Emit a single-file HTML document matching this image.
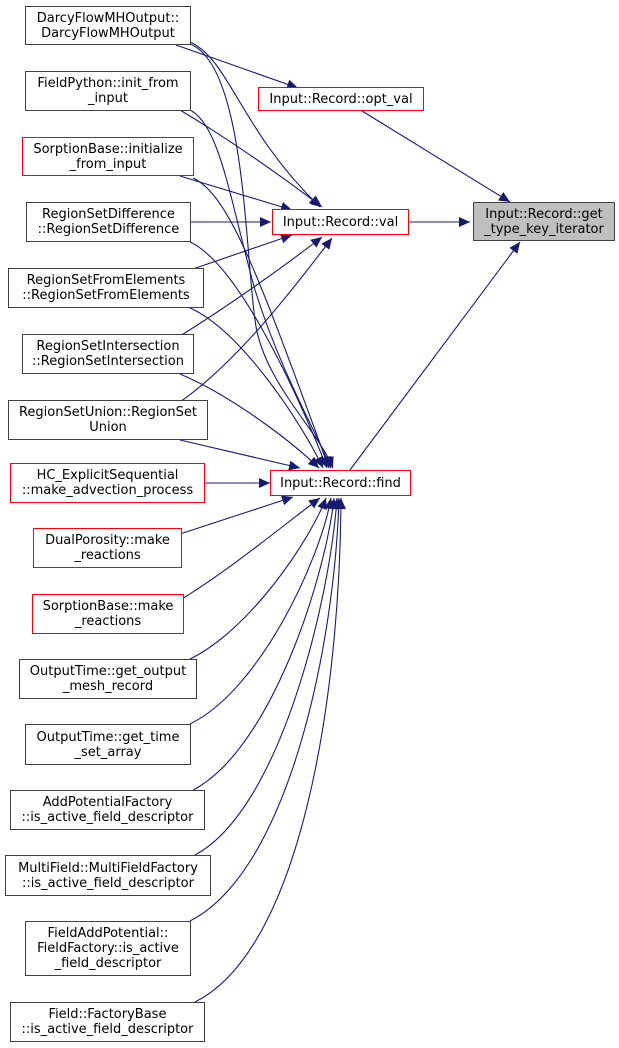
<!DOCTYPE html>
<html><head><meta charset="utf-8"><style>
html,body{margin:0;padding:0;background:#fff;}
body{width:619px;height:1048px;position:relative;overflow:hidden;font-family:"DejaVu Sans","Liberation Sans",sans-serif;font-size:13px;}
.n{position:absolute;box-sizing:border-box;border:1.3px solid #404040;background:#fff;text-align:center;line-height:15px;display:flex;align-items:center;justify-content:center;color:#000;white-space:nowrap;}
.r{border-color:#ff0000;}
.g{background:#bfbfbf;}
svg{position:absolute;left:0;top:0;}
</style></head><body>
<svg width="619" height="1048">
<defs><marker id="a" markerUnits="userSpaceOnUse" markerWidth="12" markerHeight="10" refX="11" refY="5" orient="auto"><path d="M0,0 L11,5 L0,10 z" fill="#191970"/></marker></defs>
<g fill="none" stroke="#191970" stroke-width="1.1" marker-end="url(#a)">
<path d="M176,45 L298,88"/>
<path d="M190,42 C230,60 240,130 320,207"/>
<path d="M190,44 C245,65 245,250 255,320 C262,380 318,430 333,468"/>
<path d="M180,110 C230,140 280,175 322,207"/>
<path d="M190,110 C220,125 230,200 255,290 C280,370 315,430 331,468"/>
<path d="M180,176 L292,210"/>
<path d="M193,178 C230,195 260,280 329,468"/>
<path d="M190,222 L271,222"/>
<path d="M190,242 C240,265 300,400 327,468"/>
<path d="M190,270 L292,235"/>
<path d="M190,308 C240,330 300,420 323,468"/>
<path d="M180,336 C230,305 290,262 322,237"/>
<path d="M180,374 C230,395 290,440 319,468"/>
<path d="M180,402 C240,360 300,280 332,238"/>
<path d="M180,440 L300,468"/>
<path d="M205,483 L270,483"/>
<path d="M180,534 L293,497"/>
<path d="M180,600 C230,570 290,520 320,498"/>
<path d="M190,659 C250,630 310,540 326,498"/>
<path d="M190,724 C260,690 320,560 331,498"/>
<path d="M193,790 C270,750 325,580 334,498"/>
<path d="M195,855 C280,810 330,600 337,498"/>
<path d="M190,921 C290,870 335,640 339,498"/>
<path d="M195,1002 C300,950 340,700 341,498"/>
<path d="M362,111 L510,202"/>
<path d="M409,222 L470,222"/>
<path d="M350,470 L520,242"/>
</g>
</svg>
<div class="n" style="left:25px;top:6px;width:166px;height:39px">DarcyFlowMHOutput::<br>DarcyFlowMHOutput</div>
<div class="n" style="left:25px;top:71px;width:166px;height:40px">FieldPython::init_from<br>_input</div>
<div class="n r" style="left:22px;top:137px;width:172px;height:39px">SorptionBase::initialize<br>_from_input</div>
<div class="n" style="left:26px;top:202px;width:165px;height:40px">RegionSetDifference<br>::RegionSetDifference</div>
<div class="n" style="left:8px;top:268px;width:196px;height:40px">RegionSetFromElements<br>::RegionSetFromElements</div>
<div class="n" style="left:22px;top:334px;width:172px;height:40px">RegionSetIntersection<br>::RegionSetIntersection</div>
<div class="n" style="left:8px;top:400px;width:200px;height:40px">RegionSetUnion::RegionSet<br>Union</div>
<div class="n r" style="left:10px;top:463px;width:195px;height:40px">HC_ExplicitSequential<br>::make_advection_process</div>
<div class="n r" style="left:33px;top:528px;width:149px;height:40px">DualPorosity::make<br>_reactions</div>
<div class="n r" style="left:32px;top:594px;width:152px;height:40px">SorptionBase::make<br>_reactions</div>
<div class="n" style="left:19px;top:659px;width:178px;height:40px">OutputTime::get_output<br>_mesh_record</div>
<div class="n" style="left:25px;top:724px;width:166px;height:41px">OutputTime::get_time<br>_set_array</div>
<div class="n" style="left:10px;top:790px;width:195px;height:40px">AddPotentialFactory<br>::is_active_field_descriptor</div>
<div class="n" style="left:5px;top:855px;width:206px;height:41px">MultiField::MultiFieldFactory<br>::is_active_field_descriptor</div>
<div class="n" style="left:25px;top:921px;width:166px;height:55px">FieldAddPotential::<br>FieldFactory::is_active<br>_field_descriptor</div>
<div class="n" style="left:10px;top:1002px;width:195px;height:40px">Field::FactoryBase<br>::is_active_field_descriptor</div>
<div class="n r" style="left:258px;top:87px;width:166px;height:24px">Input::Record::opt_val</div>
<div class="n r" style="left:272px;top:209px;width:137px;height:26px">Input::Record::val</div>
<div class="n r" style="left:270px;top:470px;width:141px;height:26px">Input::Record::find</div>
<div class="n g" style="left:473px;top:202px;width:142px;height:39px">Input::Record::get<br>_type_key_iterator</div>
</body></html>
